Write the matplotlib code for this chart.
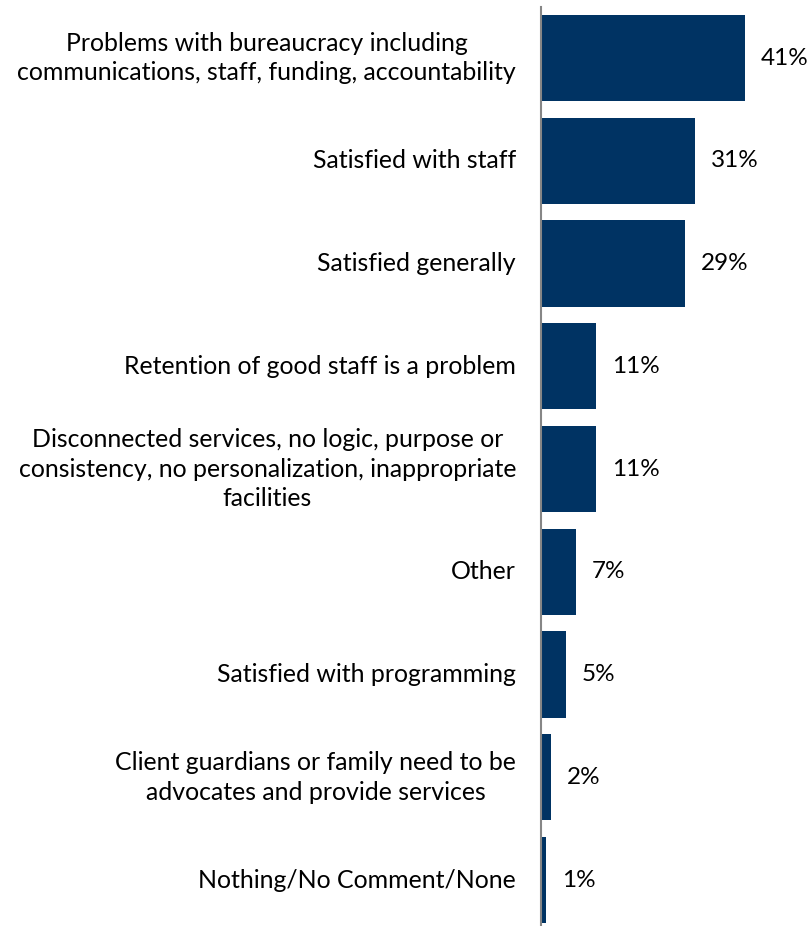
import matplotlib.pyplot as plt

categories = [
    "Problems with bureaucracy including\ncommunications, staff, funding, accountability",
    "Satisfied with staff",
    "Satisfied generally",
    "Retention of good staff is a problem",
    "Disconnected services, no logic, purpose or\nconsistency, no personalization, inappropriate\nfacilities",
    "Other",
    "Satisfied with programming",
    "Client guardians or family need to be\nadvocates and provide services",
    "Nothing/No Comment/None",
]
values = [41, 31, 29, 11, 11, 7, 5, 2, 1]

BAR_COLOR = "#003363"
AXIS_COLOR = "#868686"

plt.rcParams["font.family"] = ["Lato", "DejaVu Sans"]

fig = plt.figure(figsize=(8.09, 9.26), dpi=100)
ax = fig.add_axes([541 / 809, 0, 1 - 541 / 809, 919.35 / 926])

pos = list(range(len(values)))
ax.barh(pos, values, height=0.84, color=BAR_COLOR, zorder=2)
ax.set_xlim(0, (809 - 541) / 4.98)
ax.set_ylim(8.447, -0.5)

for y, v in zip(pos, values):
    ax.text(v + 3.2, y, f"{v}%", va="center", ha="left", fontsize=17.5)

for y, label in zip(pos, categories):
    ax.text(-5.0, y, label, va="center", ha="right", multialignment="center",
            fontsize=17.9, linespacing=1.36)

for side in ["top", "right", "bottom"]:
    ax.spines[side].set_visible(False)
ax.spines["left"].set_color(AXIS_COLOR)
ax.spines["left"].set_linewidth(1.5)
ax.set_xticks([])
ax.set_yticks([])
ax.patch.set_alpha(0)

fig.savefig("out.png", dpi=100)
